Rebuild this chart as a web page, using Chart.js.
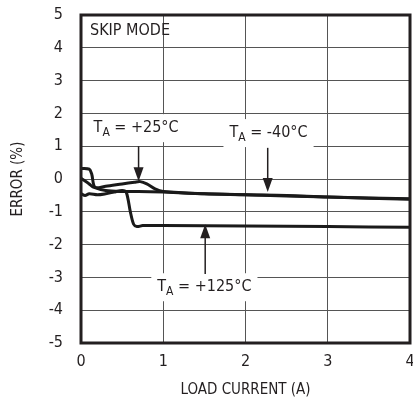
<!DOCTYPE html>
<html>
<head>
<meta charset="utf-8">
<script src="https://cdn.jsdelivr.net/npm/chart.js@4"></script>
<style>
	body { margin: 0; background: #fff; }
	#wrap { width: 413px; height: 406px; }
</style>
</head>
<body>
<div id="wrap"><canvas id="myChartError"></canvas></div>
<script>
var FONT = '"Liberation Sans Narrow", "DejaVu Sans Condensed", sans-serif';

// tick values
var xTicks = [0, 1, 2, 3, 4];
var yTicks = [-5, -4, -3, -2, -1, 0, 1, 2, 3, 4, 5];

// load current (A) and error (%)
var x25 = [0, 0.1, 0.13, 0.17, 0.3, 0.5, 0.65, 0.72, 0.8, 0.9, 1.0, 1.5, 2, 3, 4];
var y25 = [0.32, 0.3, 0.15, -0.25, -0.22, -0.15, -0.1, -0.08, -0.15, -0.3, -0.38, -0.45, -0.48, -0.55, -0.62];

var xM40 = [0, 0.1, 0.15, 0.3, 0.5, 0.7, 1.0, 1.5, 2, 2.5, 3, 4];
var yM40 = [0.02, -0.15, -0.25, -0.35, -0.38, -0.38, -0.4, -0.45, -0.48, -0.5, -0.55, -0.6];

var x125 = [0, 0.05, 0.1, 0.2, 0.3, 0.4, 0.5, 0.55, 0.6, 0.64, 0.68, 0.75, 1, 2, 3, 4];
var y125 = [-0.45, -0.5, -0.45, -0.48, -0.45, -0.4, -0.35, -0.4, -1.0, -1.38, -1.45, -1.42, -1.42, -1.43, -1.45, -1.47];

// annotation labels: text, subscript, rest, label x/y, arrow x, arrow from y, arrow to y
var labels = [
	{ t: 'T', sub: 'A', rest: ' = +25°C', x: 0.67, y: 1.55, ax: 0.7, ay0: 1.0, ay1: -0.07 },
	{ t: 'T', sub: 'A', rest: ' = -40°C', x: 2.28, y: 1.4, ax: 2.27, ay0: 0.95, ay1: -0.4 },
	{ t: 'T', sub: 'A', rest: ' = +125°C', x: 1.5, y: -3.3, ax: 1.51, ay0: -2.9, ay1: -1.38 },
];

function pts(xs, ys) {
	var out = [];
	for (var i = 0; i < xs.length; i++) out.push({ x: xs[i], y: ys[i] });
	return out;
}

var annot = {
	id: 'annot',
	afterDatasetsDraw: function (chart) {
		var c = chart.ctx;
		var xs = chart.scales.x;
		var ys = chart.scales.y;
		var a = chart.chartArea;
		c.save();
		labels.forEach(function (l) {
			var big = '16px ' + FONT;
			var small = '12px ' + FONT;
			c.font = big;
			var w1 = c.measureText(l.t).width;
			var w3 = c.measureText(l.rest).width;
			c.font = small;
			var w2 = c.measureText(l.sub).width;
			var w = w1 + w2 + w3;
			var cx = xs.getPixelForValue(l.x);
			var cy = ys.getPixelForValue(l.y);
			c.fillStyle = '#fff';
			c.fillRect(cx - w / 2 - 6, cy - 14, w + 12, 28);
			c.fillStyle = '#231f20';
			c.textBaseline = 'middle';
			c.textAlign = 'left';
			var x0 = cx - w / 2;
			c.font = big;
			c.fillText(l.t, x0, cy);
			c.font = small;
			c.fillText(l.sub, x0 + w1, cy + 5);
			c.font = big;
			c.fillText(l.rest, x0 + w1 + w2, cy);
			// arrow
			var px = xs.getPixelForValue(l.ax);
			var p0 = ys.getPixelForValue(l.ay0);
			var p1 = ys.getPixelForValue(l.ay1);
			var dir = p1 > p0 ? 1 : -1;
			c.strokeStyle = '#231f20';
			c.lineWidth = 1.5;
			c.beginPath();
			c.moveTo(px, p0);
			c.lineTo(px, p1 - dir * 10);
			c.stroke();
			c.beginPath();
			c.moveTo(px, p1);
			c.lineTo(px - 5, p1 - dir * 14);
			c.lineTo(px + 5, p1 - dir * 14);
			c.closePath();
			c.fill();
		});
		c.font = '16px ' + FONT;
		c.fillStyle = '#231f20';
		c.textAlign = 'left';
		c.textBaseline = 'middle';
		c.fillText('SKIP MODE', a.left + 9, a.top + 16);
		c.strokeStyle = '#231f20';
		c.lineWidth = 3;
		c.strokeRect(a.left, a.top, a.right - a.left, a.bottom - a.top);
		c.restore();
	},
};

var line = function (data) {
	return {
		data: data,
		borderColor: '#1a1a1a',
		borderWidth: 3,
		pointRadius: 0,
		tension: 0.3,
		fill: false,
	};
};

var ctx = document.getElementById('myChartError');
var myChart = new Chart(ctx, {
	type: 'line',
	data: {
		datasets: [line(pts(x25, y25)), line(pts(xM40, yM40)), line(pts(x125, y125))],
	},
	plugins: [annot],
	options: {
		responsive: true,
		maintainAspectRatio: false,
		animation: false,
		layout: { padding: { left: 0, right: 3, top: 15, bottom: 0 } },
		plugins: { legend: { display: false }, tooltip: { enabled: false } },
		scales: {
			x: {
				type: 'linear',
				min: 0,
				max: 4,
				afterBuildTicks: function (s) {
					s.ticks = xTicks.map(function (v) { return { value: v }; });
				},
				afterFit: function (s) {
					s.height = 63;
					s.paddingLeft = 0;
					s.paddingRight = 0;
				},
				grid: { color: '#555', lineWidth: 1, drawTicks: false },
				border: { display: false },
				ticks: { color: '#231f20', font: { family: FONT, size: 16 }, padding: 9, maxRotation: 0 },
				title: { display: true, text: 'LOAD CURRENT (A)', color: '#231f20', font: { family: FONT, size: 15 }, padding: { top: 0, bottom: 7 } },
			},
			y: {
				type: 'linear',
				min: -5,
				max: 5,
				afterBuildTicks: function (s) {
					s.ticks = yTicks.map(function (v) { return { value: v }; });
				},
				afterFit: function (s) {
					s.width = 81;
					s.paddingTop = 0;
					s.paddingBottom = 0;
				},
				grid: { color: '#555', lineWidth: 1, drawTicks: false },
				border: { display: false },
				ticks: { color: '#231f20', font: { family: FONT, size: 16 }, padding: 18 },
				title: { display: true, text: 'ERROR (%)', color: '#231f20', font: { family: FONT, size: 15 }, padding: { top: 9 } },
			},
		},
	},
});
</script>
</body>
</html>
